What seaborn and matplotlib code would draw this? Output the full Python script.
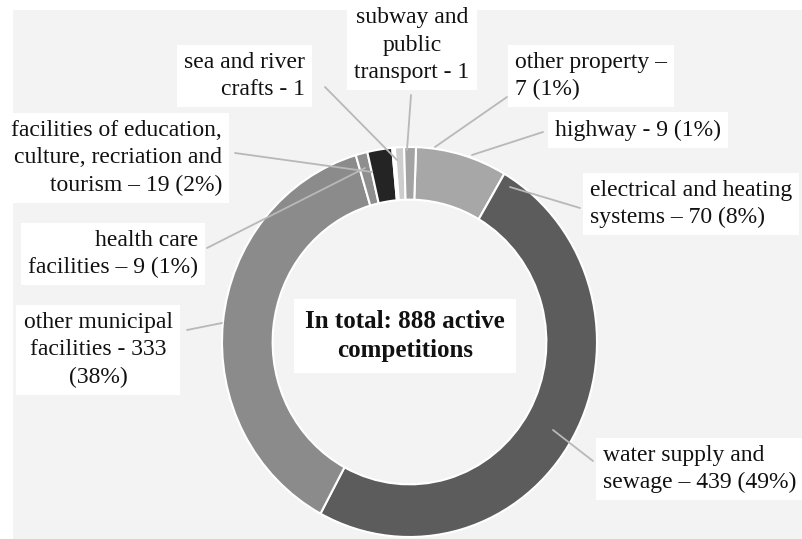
import matplotlib
matplotlib.use('Agg')
import matplotlib.pyplot as plt
from matplotlib.lines import Line2D
from matplotlib.patches import Rectangle
import seaborn as sns

sns.set_theme(style='white')
plt.rcParams['font.family'] = ['Liberation Serif', 'DejaVu Serif']

# data, clockwise from just right of 12 o'clock
categories = ['electrical and heating systems', 'water supply and sewage',
              'other municipal facilities', 'health care facilities',
              'facilities of education, culture, recriation and tourism',
              'sea and river crafts', 'subway and public transport',
              'other property', 'highway']
counts = [70, 439, 333, 9, 19, 1, 1, 7, 9]
colors = ['#a7a7a7', '#5c5c5c', '#8b8b8b', '#8e8e8e', '#242424',
          '#7a7a7a', '#e2e2e2', '#cdcdcd', '#a3a3a3']
labels = ['electrical and heating\nsystems \u2013 70 (8%)',
          'water supply and\nsewage \u2013 439 (49%)',
          'other municipal\nfacilities - 333\n(38%)',
          'health care\nfacilities \u2013 9 (1%)',
          'facilities of education,\nculture, recriation and\ntourism \u2013 19 (2%)',
          'sea and river\ncrafts - 1',
          'subway and\npublic\ntransport - 1',
          'other property \u2013\n7 (1%)',
          'highway - 9 (1%)']
total_text = 'In total: 888 active\ncompetitions'

W, H = 802, 539
fig = plt.figure(figsize=(W / 100, H / 100), dpi=100)
fig.patch.set_facecolor('white')


def px(x, y):
    return x / W, 1 - y / H


# light grey plot area
fig.patches.append(Rectangle(px(13, 539), (W - 13) / W, (539 - 10) / H,
                             transform=fig.transFigure, facecolor='#f3f3f3',
                             edgecolor='none', zorder=-5))

# donut (slightly taller than wide like the reference)
ax = fig.add_axes([222 / W, 2 / H, 375 / W, 390 / H])
ax.pie(counts, colors=colors, startangle=88, counterclock=False,
       wedgeprops=dict(width=0.27, edgecolor='white', linewidth=1.5))
ax.set_aspect('auto')
ax.set_xlim(-1, 1)
ax.set_ylim(-1, 1)
ax.axis('off')
ax.set_zorder(2)

# label layout: text anchor (px), alignment, leader line start/end (px)
layout = [
    ((590, 204), 'left', 'left', (580, 208), (510, 187)),
    ((603, 469), 'left', 'left', (593, 461), (553, 430)),
    ((98, 350), 'center', 'center', (187, 330), (222, 323)),
    ((198, 254), 'right', 'right', (207, 248), (365, 168)),
    ((222, 158), 'right', 'right', (235, 153), (372, 172)),
    ((305, 76), 'right', 'right', (325, 87), (397, 160)),
    ((412, 45), 'center', 'center', (411, 95), (407, 150)),
    ((515, 76), 'left', 'left', (507, 97), (435, 147)),
    ((555, 130), 'left', 'left', (543, 132), (472, 155)),
]

for lab, (pos, ha, ma, p0, p1) in zip(labels, layout):
    x0, y0 = px(*p0)
    x1, y1 = px(*p1)
    fig.lines.append(Line2D([x0, x1], [y0, y1], transform=fig.transFigure,
                            color='#b8b8b8', linewidth=1.3, zorder=3))
    fig.text(*px(*pos), lab, ha=ha, va='center', multialignment=ma,
             fontsize=17, color='#111111', linespacing=1.38, zorder=4,
             bbox=dict(boxstyle='square,pad=0.3', facecolor='white',
                       edgecolor='none'))

fig.text(*px(405, 336), total_text, ha='center', va='center',
         fontsize=18, fontweight='bold', color='#111111', linespacing=1.32,
         zorder=4, bbox=dict(boxstyle='square,pad=0.45', facecolor='white',
                             edgecolor='none'))

plt.savefig('out.png', dpi=100, facecolor=fig.get_facecolor())
plt.close()
